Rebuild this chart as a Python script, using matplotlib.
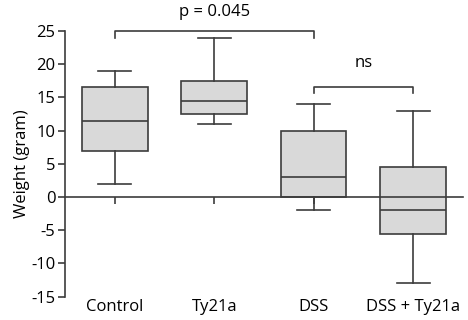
import matplotlib
matplotlib.use("Agg")
import matplotlib.pyplot as plt
import matplotlib.transforms as mtransforms

# box plot summary values (grams)
groups = ["Control", "Ty21a", "DSS", "DSS + Ty21a"]
whisk_low = [2, 11, -2, -13]
q1 = [7, 12.5, 0, -5.5]
median = [11.5, 14.5, 3, -2]
q3 = [16.5, 17.5, 10, 4.5]
whisk_high = [19, 24, 14, 13]

yticks = [-15, -10, -5, 0, 5, 10, 15, 20, 25]

# significance brackets: (left group, right group, bracket y, leg y, text, text y)
brackets = [(1, 3, 25, 24, "p = 0.045", 27.9),
            (3, 4, 16.5, 15.7, "ns", 20.2)]

plt.rcParams['font.family'] = ['Open Sans', 'DejaVu Sans']
line_col = "#3c3c3c"
lw = 1.2
fs = 12

fig = plt.figure(figsize=(4.68, 3.2), dpi=100)
ax = fig.add_axes([0.139, 0.073, 0.85, 0.830])

stats = []
for i, g in enumerate(groups):
    stats.append(dict(label=g, whislo=whisk_low[i], q1=q1[i], med=median[i],
                      q3=q3[i], whishi=whisk_high[i], fliers=[]))

positions = list(range(1, len(groups) + 1))
ax.bxp(stats, positions=positions, widths=0.66, patch_artist=True,
       showfliers=False,
       boxprops=dict(facecolor="#d9d9d9", edgecolor=line_col, linewidth=lw),
       medianprops=dict(color=line_col, linewidth=lw),
       whiskerprops=dict(color=line_col, linewidth=lw),
       capprops=dict(color=line_col, linewidth=lw),
       capwidths=0.33, zorder=3)

ax.set_xlim(0.5, 4.5)
ax.set_ylim(-15, 25)
ax.set_yticks(yticks)
ax.set_yticklabels([str(t) for t in yticks], fontsize=fs)

ax.spines['top'].set_visible(False)
ax.spines['right'].set_visible(False)
ax.spines['bottom'].set_position(('data', 0))
ax.spines['bottom'].set_zorder(4)
for s in ['left', 'bottom']:
    ax.spines[s].set_color(line_col)
    ax.spines[s].set_linewidth(lw)

ax.set_xticks(positions)
ax.set_xticklabels([])
ax.tick_params(axis='both', direction='out', length=5, width=lw, color=line_col)
ax.tick_params(axis='y', pad=2)

# group names along the bottom of the plot
trans = mtransforms.blended_transform_factory(ax.transData, ax.transAxes)
for p, g in zip(positions, groups):
    ax.text(p, -0.008, g, transform=trans, ha='center', va='top', fontsize=fs)

ax.set_ylabel("Weight (gram)", fontsize=fs, labelpad=1)

for x0, x1, yb, yl, txt, yt in brackets:
    ax.plot([x0, x0, x1, x1], [yl, yb, yb, yl], color=line_col, lw=lw,
            clip_on=False)
    ax.text((x0 + x1) / 2, yt, txt, ha='center', va='center', fontsize=fs,
            clip_on=False)

fig.savefig("out.png", dpi=100)
